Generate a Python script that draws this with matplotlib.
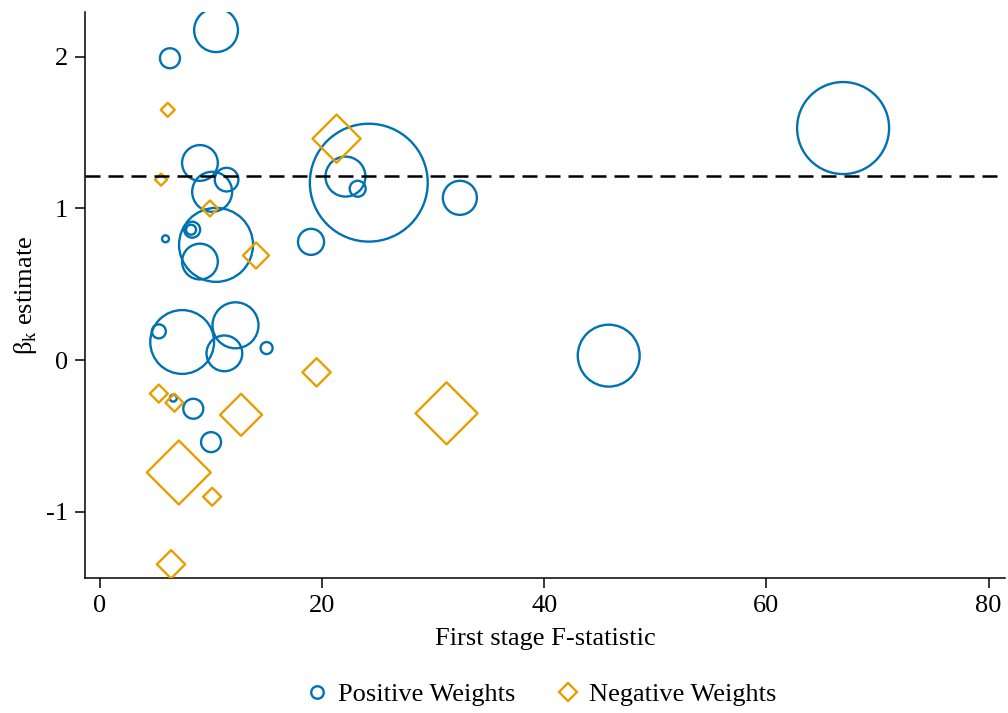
import numpy as np
import matplotlib.pyplot as plt
from matplotlib.lines import Line2D

plt.rcParams['font.family'] = ['Liberation Serif', 'DejaVu Serif']
plt.rcParams['mathtext.fontset'] = 'custom'
plt.rcParams['mathtext.rm'] = 'Liberation Serif'

# positive weights: F-statistic, beta estimate, weight
pos_f = [10.45, 6.3, 9.0, 10.1, 11.4, 10.45, 8.3, 8.2, 5.9, 9.0, 19.0, 24.2, 22.1,
         23.2, 32.4, 66.9, 7.4, 5.3, 12.2, 11.2, 15.0, 45.8, 6.6, 8.4, 10.0]
pos_beta = [2.175, 1.99, 1.30, 1.11, 1.19, 0.76, 0.86, 0.86, 0.80, 0.65, 0.78, 1.17, 1.21,
            1.13, 1.07, 1.53, 0.12, 0.19, 0.23, 0.045, 0.08, 0.03, -0.25, -0.32, -0.54]
pos_w = [48, 10, 32, 40, 14, 137, 6.4, 2.5, 1.2, 32, 17, 348, 40,
         6.4, 29, 212, 102, 4.9, 53, 32, 3.6, 96, 1.2, 10, 10]

# negative weights
neg_f = [6.1, 5.5, 9.9, 14.05, 21.3, 5.3, 6.7, 12.7, 7.1, 10.1, 6.4, 19.5, 31.2]
neg_beta = [1.65, 1.19, 1.00, 0.69, 1.46, -0.22, -0.28, -0.36, -0.74, -0.90, -1.345, -0.08, -0.35]
neg_w = [4.9, 3.6, 6.4, 17, 58, 8.1, 8.1, 44, 102, 8.1, 20, 20, 96]

beta_overall = 1.213

blue = '#0072B2'
orange = '#E69F00'

fig = plt.figure(figsize=(10.08, 7.13), dpi=100)
ax = fig.add_axes([0.0843, 0.189, 0.913, 0.794])

ax.scatter(pos_f, pos_beta, s=np.array(pos_w) * 20.7, facecolors='none',
           edgecolors=blue, linewidths=1.7, marker='o', zorder=3)
ax.scatter(neg_f, neg_beta, s=np.array(neg_w) * 10.4, facecolors='none',
           edgecolors=orange, linewidths=1.7, marker='D', zorder=3)
ax.axhline(beta_overall, color='black', lw=1.8, dashes=(6, 3.2), zorder=4)

ax.set_xlim(-1.35, 81.5)
ax.set_ylim(-1.437, 2.294)
ax.set_xticks([0, 20, 40, 60, 80])
ax.set_yticks([-1, 0, 1, 2])
ax.set_yticklabels(['-1', '0', '1', '2'])
for s in ['top', 'right']:
    ax.spines[s].set_visible(False)
for s in ['left', 'bottom']:
    ax.spines[s].set_linewidth(1.1)
ax.tick_params(direction='out', length=7, width=1.1, labelsize=19, pad=5)
ax.set_xlabel('First stage F-statistic', fontsize=19, labelpad=8)
ax.set_ylabel(r'β$_\mathregular{k}$ estimate', fontsize=19, labelpad=5)

handles = [Line2D([], [], marker='o', ls='none', mfc='none', mec=blue, mew=1.7, ms=9),
           Line2D([], [], marker='D', ls='none', mfc='none', mec=orange, mew=1.7, ms=9)]
fig.legend(handles, ['Positive Weights', 'Negative Weights'], loc='center',
           bbox_to_anchor=(0.536, 0.026), ncol=2, frameon=False, fontsize=19,
           handlelength=1.0, handletextpad=0.3, columnspacing=1.5)

fig.savefig('out.png', dpi=100)
